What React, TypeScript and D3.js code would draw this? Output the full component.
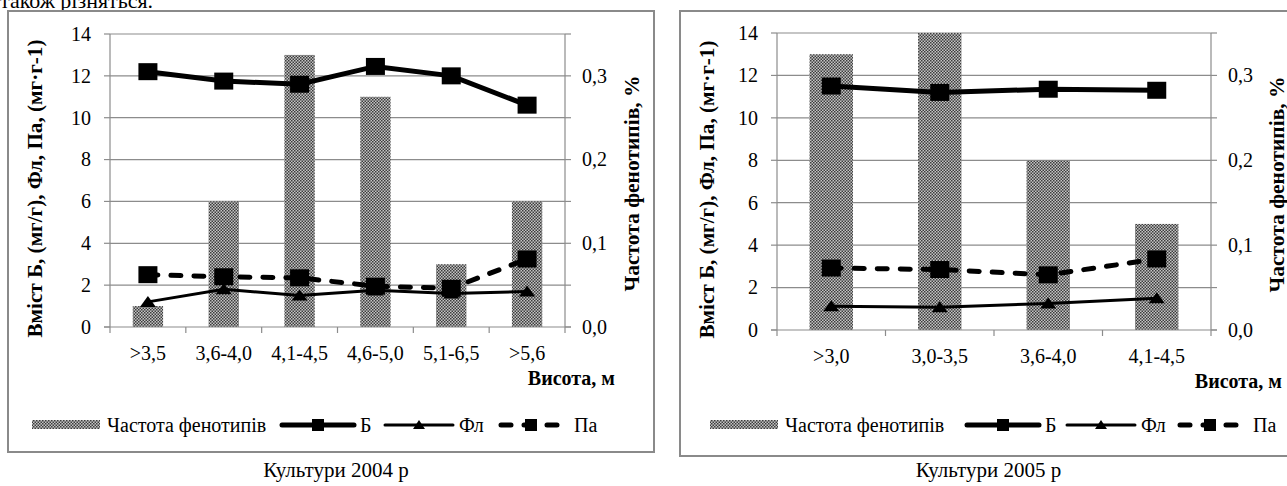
import { useEffect, useRef } from 'react';
import * as d3 from 'd3';

// ---- data ----
const cats2004 = ['>3,5', '3,6-4,0', '4,1-4,5', '4,6-5,0', '5,1-6,5', '>5,6'];
const freq2004 = [0.025, 0.15, 0.325, 0.275, 0.075, 0.15];
const b2004 = [12.2, 11.75, 11.6, 12.45, 12.0, 10.6];
const fl2004 = [1.2, 1.8, 1.5, 1.75, 1.6, 1.7];
const pa2004 = [2.5, 2.4, 2.35, 1.95, 1.85, 3.25];

const cats2005 = ['>3,0', '3,0-3,5', '3,6-4,0', '4,1-4,5'];
const freq2005 = [0.325, 0.35, 0.2, 0.125];
const b2005 = [11.5, 11.2, 11.35, 11.3];
const fl2005 = [1.12, 1.07, 1.25, 1.5];
const pa2005 = [2.92, 2.85, 2.6, 3.35];

const leftTicks = [0, 2, 4, 6, 8, 10, 12, 14];
const rightTicks = [0, 0.05, 0.1, 0.15, 0.2, 0.25, 0.3, 0.35];
const rightLabels = ['0,0', '', '0,1', '', '0,2', '', '0,3', ''];

const yTitle = 'Вміст Б, (мг/г), Фл, Па, (мг·г-1)';
const y2Title = 'Частота фенотипів, %';
const xTitle = 'Висота, м';
const legendNames = ['Частота фенотипів', 'Б', 'Фл', 'Па'];

const FONT = '"Liberation Serif", "Times New Roman", serif';
const GRID = '#8c8c8c';
const TICK_FS = 20;

interface ChartSpec {
  id: string;
  cats: string[];
  freq: number[];
  b: number[];
  fl: number[];
  pa: number[];
  frame: [number, number, number, number]; // x0, y0, x1, y1
  plot: [number, number, number, number];
  caption: string;
  legendX: number[]; // patch, Б line, Фл line, Па line
  yTitleX: number;
  y2TitleX: number;
  xTitleX: number;
}

const charts: ChartSpec[] = [
  {
    id: 'c2004',
    cats: cats2004, freq: freq2004, b: b2004, fl: fl2004, pa: pa2004,
    frame: [8, 11, 654, 452],
    plot: [110, 34, 565, 327],
    caption: 'Культури 2004 р',
    legendX: [32, 282, 385, 498],
    yTitleX: 35,
    y2TitleX: 632,
    xTitleX: 615,
  },
  {
    id: 'c2005',
    cats: cats2005, freq: freq2005, b: b2005, fl: fl2005, pa: pa2005,
    frame: [680, 11, 1300, 456],
    plot: [777, 33, 1211, 330],
    caption: 'Культури 2005 р',
    legendX: [710, 967, 1067, 1177],
    yTitleX: 707,
    y2TitleX: 1277,
    xTitleX: 1282,
  },
];

function drawChart(svg: d3.Selection<SVGSVGElement, unknown, null, undefined>, c: ChartSpec) {
  const [fx0, fy0, fx1, fy1] = c.frame;
  const [px0, py0, px1, py1] = c.plot;
  const g = svg.append('g');

  g.append('rect')
    .attr('x', fx0).attr('y', fy0)
    .attr('width', fx1 - fx0).attr('height', fy1 - fy0)
    .attr('fill', '#fff').attr('stroke', '#8a8a8a').attr('stroke-width', 2);

  const x = d3.scaleBand<string>().domain(c.cats).range([px0, px1]).padding(0);
  const yL = d3.scaleLinear().domain([0, 14]).range([py1, py0]);
  const yR = d3.scaleLinear().domain([0, 0.35]).range([py1, py0]);

  // gridlines
  g.selectAll('.grid').data(leftTicks.slice(1)).enter().append('line')
    .attr('x1', px0).attr('x2', px1)
    .attr('y1', (d) => yL(d)).attr('y2', (d) => yL(d))
    .attr('stroke', GRID).attr('stroke-width', 1.2);

  // bars
  const bw = x.bandwidth() * 0.4;
  g.selectAll('.bar').data(c.freq).enter().append('rect')
    .attr('x', (_, i) => (x(c.cats[i]) as number) + x.bandwidth() / 2 - bw / 2)
    .attr('y', (d) => yR(d))
    .attr('width', bw)
    .attr('height', (d) => py1 - yR(d))
    .attr('fill', 'url(#checker)');

  // axes lines
  g.append('line').attr('x1', px0).attr('x2', px0).attr('y1', py0).attr('y2', py1 + 6)
    .attr('stroke', GRID).attr('stroke-width', 1.2);
  g.append('line').attr('x1', px1).attr('x2', px1).attr('y1', py0).attr('y2', py1 + 6)
    .attr('stroke', GRID).attr('stroke-width', 1.2);
  g.append('line').attr('x1', px0 - 6).attr('x2', px1 + 6).attr('y1', py1).attr('y2', py1)
    .attr('stroke', GRID).attr('stroke-width', 1.2);

  // left ticks + labels
  leftTicks.forEach((t) => {
    g.append('line').attr('x1', px0 - 6).attr('x2', px0).attr('y1', yL(t)).attr('y2', yL(t))
      .attr('stroke', GRID).attr('stroke-width', 1.2);
    g.append('text').attr('x', px0 - 19).attr('y', yL(t)).attr('dy', '0.34em')
      .attr('text-anchor', 'end').attr('font-family', FONT).attr('font-size', TICK_FS)
      .text(t);
  });
  // right ticks + labels
  rightTicks.forEach((t, i) => {
    g.append('line').attr('x1', px1).attr('x2', px1 + 6).attr('y1', yR(t)).attr('y2', yR(t))
      .attr('stroke', GRID).attr('stroke-width', 1.2);
    if (rightLabels[i]) {
      g.append('text').attr('x', px1 + 17).attr('y', yR(t)).attr('dy', '0.34em')
        .attr('text-anchor', 'start').attr('font-family', FONT).attr('font-size', TICK_FS)
        .text(rightLabels[i]);
    }
  });
  // category ticks and labels
  c.cats.forEach((cat, i) => {
    const bx = x(cat) as number;
    if (i > 0) {
      g.append('line').attr('x1', bx).attr('x2', bx).attr('y1', py1).attr('y2', py1 + 6)
        .attr('stroke', GRID).attr('stroke-width', 1.2);
    }
    g.append('text').attr('x', bx + x.bandwidth() / 2).attr('y', py1 + 33)
      .attr('text-anchor', 'middle').attr('font-family', FONT).attr('font-size', TICK_FS)
      .text(cat);
  });

  // lines
  const cx = (i: number) => (x(c.cats[i]) as number) + x.bandwidth() / 2;
  const line = d3.line<number>().x((_, i) => cx(i)).y((d) => yL(d));

  g.append('path').attr('d', line(c.fl)).attr('fill', 'none')
    .attr('stroke', '#000').attr('stroke-width', 3);
  g.append('path').attr('d', line(c.pa)).attr('fill', 'none')
    .attr('stroke', '#000').attr('stroke-width', 5)
    .attr('stroke-dasharray', '10,13').attr('stroke-linecap', 'round');
  g.append('path').attr('d', line(c.b)).attr('fill', 'none')
    .attr('stroke', '#000').attr('stroke-width', 5);

  const tri = (px: number, py: number) => `M${px - 8},${py + 5}L${px},${py - 6}L${px + 8},${py + 5}Z`;
  c.fl.forEach((v, i) => {
    g.append('path').attr('d', tri(cx(i), yL(v))).attr('fill', '#000');
  });
  [...c.pa, ...c.b].forEach((v, k) => {
    const i = k % c.cats.length;
    g.append('rect').attr('x', cx(i) - 9.5).attr('y', yL(v) - 8.5)
      .attr('width', 19).attr('height', 17).attr('fill', '#000');
  });

  // axis titles
  g.append('text')
    .attr('transform', `translate(${c.yTitleX},${(py0 + py1) / 2 + 8}) rotate(-90)`)
    .attr('dy', '0.35em').attr('text-anchor', 'middle')
    .attr('font-family', FONT).attr('font-size', 20).attr('font-weight', 700)
    .attr('textLength', 298).attr('lengthAdjust', 'spacingAndGlyphs')
    .text(yTitle);
  g.append('text')
    .attr('transform', `translate(${c.y2TitleX},${(py0 + py1) / 2 + 3}) rotate(-90)`)
    .attr('dy', '0.35em').attr('text-anchor', 'middle')
    .attr('font-family', FONT).attr('font-size', 20).attr('font-weight', 700)
    .attr('textLength', 216).attr('lengthAdjust', 'spacingAndGlyphs')
    .text(y2Title);
  g.append('text')
    .attr('x', c.xTitleX).attr('y', py1 + 58)
    .attr('text-anchor', 'end')
    .attr('font-family', FONT).attr('font-size', 20).attr('font-weight', 700)
    .text(xTitle);

  // legend
  const ly = 425;
  const [lp, lb, lf, lpa] = c.legendX;
  g.append('rect').attr('x', lp).attr('y', ly - 5).attr('width', 68).attr('height', 9)
    .attr('fill', 'url(#checker)');
  g.append('text').attr('x', lp + 75).attr('y', ly).attr('dy', '0.35em')
    .attr('font-family', FONT).attr('font-size', TICK_FS).text(legendNames[0]);

  g.append('line').attr('x1', lb).attr('x2', lb + 72).attr('y1', ly).attr('y2', ly)
    .attr('stroke', '#000').attr('stroke-width', 5).attr('stroke-linecap', 'round');
  g.append('rect').attr('x', lb + 36 - 6).attr('y', ly - 6).attr('width', 12).attr('height', 12).attr('fill', '#000');
  g.append('text').attr('x', lb + 78).attr('y', ly).attr('dy', '0.35em')
    .attr('font-family', FONT).attr('font-size', TICK_FS).text(legendNames[1]);

  g.append('line').attr('x1', lf).attr('x2', lf + 68).attr('y1', ly).attr('y2', ly)
    .attr('stroke', '#000').attr('stroke-width', 3).attr('stroke-linecap', 'round');
  g.append('path').attr('d', `M${lf + 34 - 6},${ly + 4}L${lf + 34},${ly - 5}L${lf + 34 + 6},${ly + 4}Z`).attr('fill', '#000');
  g.append('text').attr('x', lf + 74).attr('y', ly).attr('dy', '0.35em')
    .attr('font-family', FONT).attr('font-size', TICK_FS).text(legendNames[2]);

  g.append('line').attr('x1', lpa + 3).attr('x2', lpa + 63).attr('y1', ly).attr('y2', ly)
    .attr('stroke', '#000').attr('stroke-width', 5)
    .attr('stroke-dasharray', '10,13').attr('stroke-linecap', 'round');
  g.append('rect').attr('x', lpa + 33 - 6).attr('y', ly - 6).attr('width', 12).attr('height', 12).attr('fill', '#000');
  g.append('text').attr('x', lpa + 76).attr('y', ly).attr('dy', '0.35em')
    .attr('font-family', FONT).attr('font-size', TICK_FS).text(legendNames[3]);

  // caption
  g.append('text').attr('x', (fx0 + Math.min(fx1, 1287)) / 2 + 5).attr('y', 477)
    .attr('text-anchor', 'middle').attr('font-family', FONT).attr('font-size', 21)
    .text(c.caption);
}

export default function App() {
  const svgRef = useRef<SVGSVGElement>(null);

  useEffect(() => {
    if (!svgRef.current) return;
    const svg = d3.select(svgRef.current);
    svg.selectAll('*').remove();

    const defs = svg.append('defs');
    const pat = defs.append('pattern').attr('id', 'checker')
      .attr('patternUnits', 'userSpaceOnUse').attr('width', 3).attr('height', 3);
    pat.append('rect').attr('width', 3).attr('height', 3).attr('fill', '#c4c4c4');
    pat.append('rect').attr('x', 0).attr('y', 0).attr('width', 1.5).attr('height', 1.5).attr('fill', '#3c3c3c');
    pat.append('rect').attr('x', 1.5).attr('y', 1.5).attr('width', 1.5).attr('height', 1.5).attr('fill', '#3c3c3c');

    svg.append('rect').attr('width', 1287).attr('height', 486).attr('fill', '#fff');

    // cut-off line of the page text above the figures
    svg.append('text').attr('x', 0).attr('y', 8)
      .attr('font-family', FONT).attr('font-size', 22).text('також різняться.');

    charts.forEach((c) => drawChart(svg, c));
  }, []);

  return (
    <svg
      ref={svgRef}
      width={1287}
      height={486}
      style={{ position: 'absolute', left: 0, top: 0 }}
    />
  );
}
